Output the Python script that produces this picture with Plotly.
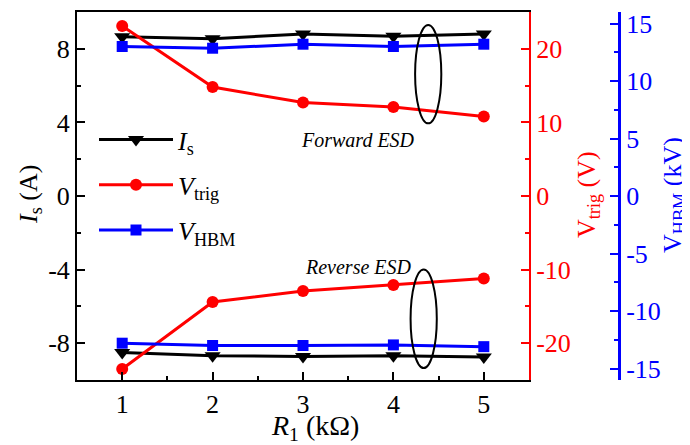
import plotly.graph_objects as go

R1 = [1, 2, 3, 4, 5]
x_ticks = [1, 2, 3, 4, 5]
is_ticks = [-8, -4, 0, 4, 8]
vtrig_ticks = [-20, -10, 0, 10, 20]
vhbm_ticks = [-15, -10, -5, 0, 5, 10, 15]

Is_fwd = [8.65, 8.55, 8.8, 8.68, 8.8]
Is_rev = [-8.5, -8.68, -8.72, -8.68, -8.75]
Vtrig_fwd = [23.1, 14.8, 12.7, 12.1, 10.8]
Vtrig_rev = [-23.5, -14.4, -12.9, -12.1, -11.2]
Vhbm_fwd = [13.0, 12.85, 13.2, 13.0, 13.2]
Vhbm_rev = [-12.8, -13.0, -13.0, -12.95, -13.1]

def lab(v):
    return str(v).replace("\u2212", "-")

FONT = "Liberation Serif, Times New Roman, serif"
W, H = 682, 437
ML, MT, MB = 69, 4, 65
MR = 32
PW = W - ML - MR
PH = H - MT - MB
xdom_end = (521 - ML) / PW
blue_pos = (611 - ML) / PW

def px(fx):
    return (fx - ML) / PW

def py(fy):
    return (H - MB - fy) / PH

fig = go.Figure()

def add(x, y, color, symbol, size, name, yaxis, show):
    fig.add_trace(go.Scatter(
        x=x, y=y, mode="lines+markers", name=name, yaxis=yaxis,
        line=dict(color=color, width=3),
        marker=dict(color=color, symbol=symbol, size=size),
        showlegend=show, legendgroup=name))

add(R1, Is_fwd, "black", "triangle-down", 14, "<i>I</i><sub>s</sub>", "y", True)
add(R1, Vtrig_fwd, "#ff0000", "circle", 12, "<i>V</i><sub>trig</sub>", "y2", True)
add(R1, Vhbm_fwd, "#0000ff", "square", 11, "<i>V</i><sub>HBM</sub>", "y3", True)
add(R1, Is_rev, "black", "triangle-down", 14, "<i>I</i><sub>s</sub>", "y", False)
add(R1, Vtrig_rev, "#ff0000", "circle", 12, "<i>V</i><sub>trig</sub>", "y2", False)
add(R1, Vhbm_rev, "#0000ff", "square", 11, "<i>V</i><sub>HBM</sub>", "y3", False)

tick_common = dict(ticks="inside", ticklen=8, tickwidth=2, showgrid=False, zeroline=False)

fig.update_layout(
    width=W, height=H,
    margin=dict(l=ML, r=MR, t=MT, b=MB, autoexpand=False),
    paper_bgcolor="white", plot_bgcolor="white",
    font=dict(family=FONT, size=26, color="black"),
    legend=dict(x=px(86), y=py(108), xanchor="left", yanchor="top",
                bgcolor="rgba(0,0,0,0)", font=dict(size=26),
                itemwidth=74, tracegroupgap=8.5),
    xaxis=dict(domain=[0, xdom_end], range=[0.5, 5.5], tickvals=x_ticks,
               ticktext=[lab(v) for v in x_ticks], tickcolor="black",
               minor=dict(tickvals=[1.5, 2.5, 3.5, 4.5], ticks="inside", ticklen=4, tickwidth=2, tickcolor="black"),
               showline=True, linecolor="black", linewidth=2, mirror=True,
               tickfont=dict(size=26), **tick_common),
    yaxis=dict(range=[-10, 10], tickvals=is_ticks, ticktext=[lab(v) for v in is_ticks],
               tickcolor="black",
               minor=dict(tickvals=[-6, -2, 2, 6], ticks="inside", ticklen=4, tickwidth=2, tickcolor="black"),
               showline=True, linecolor="black", linewidth=2,
               tickfont=dict(size=26), **tick_common),
    yaxis2=dict(overlaying="y", side="right", anchor="x", range=[-25, 25],
                tickvals=vtrig_ticks, ticktext=[lab(v) for v in vtrig_ticks],
                tickcolor="#ff0000",
                minor=dict(tickvals=[-25, -15, -5, 5, 15, 25], ticks="inside", ticklen=4, tickwidth=2, tickcolor="#ff0000"),
                showline=True, linecolor="#ff0000", linewidth=2,
                tickfont=dict(size=26, color="#ff0000"), **tick_common),
    yaxis3=dict(overlaying="y", side="right", anchor="free", position=blue_pos,
                range=[-16, 16], tickvals=vhbm_ticks, ticktext=[lab(v) for v in vhbm_ticks],
                tickcolor="#0000ff",
                minor=dict(tickvals=[-12.5, -7.5, -2.5, 2.5, 7.5, 12.5], ticks="inside", ticklen=4, tickwidth=2, tickcolor="#0000ff"),
                showline=True, linecolor="#0000ff", linewidth=3,
                tickfont=dict(size=26, color="#0000ff"), **tick_common),
)

# axis titles
fig.add_annotation(xref="paper", yref="paper", x=px(22), y=py(187), text="<i>I</i><sub>s</sub> (A)",
                   textangle=-90, showarrow=False, xanchor="center", yanchor="middle",
                   font=dict(size=26, color="black"))
fig.add_annotation(xref="paper", yref="paper", x=px(580), y=py(187), text="V<sub>trig</sub> (V)",
                   textangle=-90, showarrow=False, xanchor="center", yanchor="middle",
                   font=dict(size=26, color="#ff0000"))
fig.add_annotation(xref="paper", yref="paper", x=px(666), y=py(187), text="V<sub>HBM</sub> (kV)",
                   textangle=-90, showarrow=False, xanchor="center", yanchor="middle",
                   font=dict(size=26, color="#0000ff"))
fig.add_annotation(xref="paper", yref="paper", x=px(307), y=py(420), text="<i>R</i><sub>1</sub> (kΩ)",
                   showarrow=False, xanchor="center", yanchor="middle",
                   font=dict(size=28, color="black"))

fig.add_shape(type="circle", xref="x", yref="y", x0=4.24, x1=4.53, y0=3.95, y1=9.3,
              line=dict(color="black", width=2))
fig.add_shape(type="circle", xref="x", yref="y", x0=4.19, x1=4.48, y0=-9.35, y1=-4.0,
              line=dict(color="black", width=2))

fig.add_annotation(x=3.61, y=3.04, xref="x", yref="y", text="<i>Forward ESD</i>",
                   showarrow=False, font=dict(size=20, family=FONT, color="black"))
fig.add_annotation(x=3.61, y=-3.86, xref="x", yref="y", text="<i>Reverse ESD</i>",
                   showarrow=False, font=dict(size=20, family=FONT, color="black"))

fig.write_html("out.html")
